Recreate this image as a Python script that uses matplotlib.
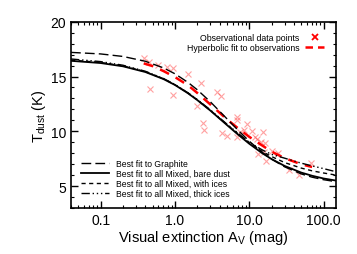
import numpy as np
import matplotlib
matplotlib.use('Agg')
import matplotlib.pyplot as plt
from matplotlib.lines import Line2D

plt.rcParams['font.family'] = ['Liberation Sans', 'DejaVu Sans']
plt.rcParams['mathtext.fontset'] = 'custom'
plt.rcParams['mathtext.rm'] = 'Liberation Sans'

# observations (A_V, T_dust)
obs_av = [0.38, 0.45, 0.59, 0.78, 0.94, 0.46, 0.93, 1.49, 2.27, 3.64, 4.12, 2.01,
          2.35, 2.48, 4.3, 4.96, 6.74, 6.74, 7.6, 9.4, 8.6, 10.9, 15.2, 6.9,
          11.8, 12.8, 14.4, 16.1, 13.0, 16.0, 17.0, 20.2, 24.2, 34.5, 46.4, 66.8]
obs_t = [16.7, 16.34, 16.06, 15.9, 15.8, 13.9, 13.35, 15.25, 14.43, 13.6, 13.25, 12.27,
         10.75, 10.1, 9.88, 9.58, 11.34, 11.06, 9.95, 10.7, 10.1, 10.0, 9.97, 9.5,
         9.49, 9.34, 9.04, 8.97, 7.9, 8.13, 7.27, 8.18, 8.0, 6.43, 6.06, 7.13]

# model curves
av = [0.04, 0.1, 0.2, 0.4, 0.7, 1, 1.5, 2, 3, 5, 7, 10, 15, 20, 30, 50, 70, 100, 150]
t_graphite = [17.2, 17.06, 16.83, 16.39, 15.79, 15.25, 14.46, 13.79, 12.69, 11.15,
              10.13, 9.1, 8.08, 7.46, 6.76, 6.12, 5.82, 5.59, 5.4]
t_bare = [16.43, 16.23, 15.93, 15.41, 14.77, 14.23, 13.47, 12.85, 11.89, 10.58,
          9.73, 8.87, 8.0, 7.47, 6.84, 6.24, 5.95, 5.7, 5.5]
t_ices = [16.5, 16.28, 15.97, 15.44, 14.79, 14.25, 13.49, 12.87, 11.91, 10.62,
          9.8, 8.95, 8.15, 7.7, 7.15, 6.65, 6.4, 6.2, 6.0]
t_thick = [16.6, 16.36, 16.03, 15.48, 14.82, 14.27, 13.51, 12.9, 11.95, 10.66,
           9.85, 9.0, 8.3, 7.9, 7.55, 7.1, 6.85, 6.6, 6.3]

# hyperbolic fit
fit_av = [0.38, 0.5, 0.7, 1.0, 1.5, 2.0, 3.0, 5.0, 7.0, 10, 15, 20, 30, 50, 70]
fit_t = [16.2, 15.95, 15.5, 14.95, 14.2, 13.5, 12.45, 11.1, 10.3, 9.5, 8.7,
         8.15, 7.55, 7.0, 6.75]

fig = plt.figure(figsize=(3.57, 2.55), dpi=100)
ax = fig.add_axes([0.199, 0.18, 0.741, 0.731])

ax.plot(obs_av, obs_t, 'x', color='#ff3030', alpha=0.45, ms=4, mew=0.8)
ax.plot(fit_av, fit_t, color='red', lw=1.8, dashes=(4, 3))

l1, = ax.plot(av, t_graphite, color='k', lw=1.0, dashes=(7, 3))
l2, = ax.plot(av, t_bare, color='k', lw=1.3)
l3, = ax.plot(av, t_ices, color='k', lw=1.0, dashes=(3, 2.5))
l4, = ax.plot(av, t_thick, color='k', lw=1.0, dashes=(6, 2, 1, 2, 1, 2, 1, 2))

ax.set_xscale('log')
ax.set_xlim(0.04, 145)
ax.set_ylim(3, 20)
ax.set_xticks([0.1, 1, 10, 100])
ax.set_xticklabels(['0.1', '1.0', '10.0', '100.0'])
ax.set_yticks([5, 10, 15, 20])
ax.set_yticks(np.arange(3, 20, 1), minor=True)
ax.tick_params(which='both', direction='in', top=True, right=True, labelsize=10)
ax.tick_params(which='major', length=5, width=1)
ax.tick_params(which='minor', length=2.5, width=0.8)
for s in ax.spines.values():
    s.set_linewidth(1.2)

ax.set_xlabel(r'Visual extinction A$_{\rm V}$ (mag)', fontsize=10.5, labelpad=1)
ax.set_ylabel(r'T$_{\rm dust}$ (K)', fontsize=10.5, labelpad=2)

h_obs = Line2D([], [], ls='none', marker='x', color='red', ms=4, mew=1.3)
h_fit = Line2D([], [], color='red', lw=1.8, dashes=(3, 2))
leg1 = ax.legend([h_obs, h_fit], ['Observational data points', 'Hyperbolic fit to observations'],
                 loc='upper right', frameon=False, markerfirst=False, fontsize=6.3,
                 handlelength=2.2, handletextpad=0.6, labelspacing=0.1,
                 borderaxespad=0.9)
ax.add_artist(leg1)
ax.legend([l1, l2, l3, l4],
          ['Best fit to Graphite', 'Best fit to all Mixed, bare dust',
           'Best fit to all Mixed, with ices', 'Best fit to all Mixed, thick ices'],
          loc='lower left', frameon=False, fontsize=6.2, handlelength=3.2,
          handletextpad=0.8, labelspacing=0.1, borderaxespad=0.8)

plt.savefig('out.png', dpi=100)
